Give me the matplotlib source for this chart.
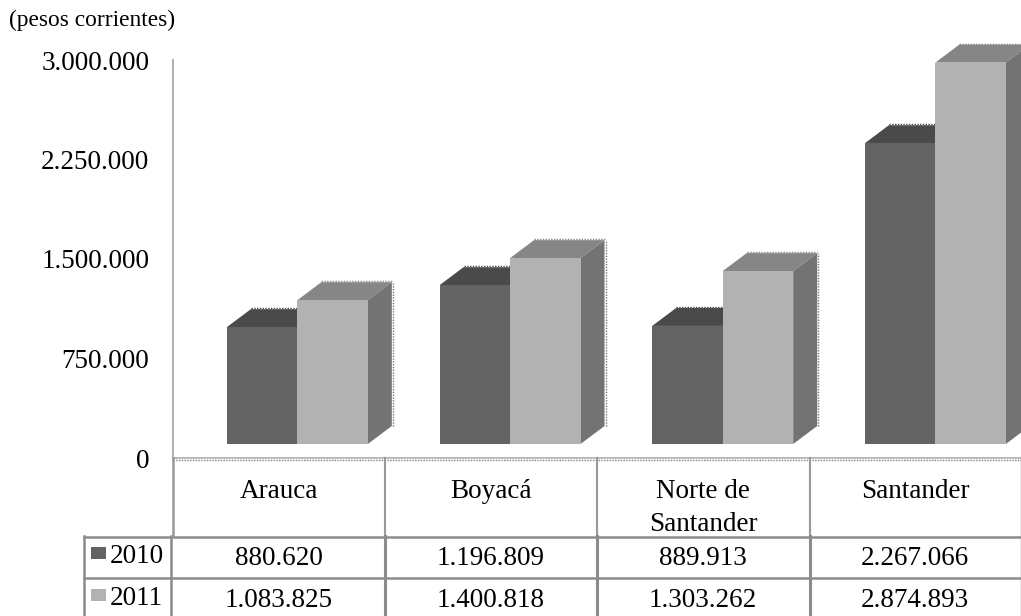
import matplotlib
matplotlib.use("Agg")
from matplotlib import pyplot as plt
from matplotlib.lines import Line2D
from matplotlib.patches import Rectangle
from matplotlib.transforms import Affine2D, offset_copy

plt.rcParams["font.family"] = ["Liberation Serif", "DejaVu Serif"]

categories = ["Arauca", "Boyacá", "Norte de\nSantander", "Santander"]
values_2010 = [880620, 1196809, 889913, 2267066]
values_2011 = [1083825, 1400818, 1303262, 2874893]
labels_2010 = ["880.620", "1.196.809", "889.913", "2.267.066"]
labels_2011 = ["1.083.825", "1.400.818", "1.303.262", "2.874.893"]
yticks = [0, 750000, 1500000, 2250000, 3000000]
ytick_labels = ["0", "750.000", "1.500.000", "2.250.000", "3.000.000"]

W, H = 1021, 616
fig = plt.figure(figsize=(W / 100, H / 100), dpi=100)
px = Affine2D().scale(1, -1).translate(0, H)  # pixel coords, y down

unit = 212.67  # pixels per category
ax = fig.add_axes([173 / W, 1 - 458 / H, 4 * unit / W, 398 / H])
ax.set_xlim(0, 4)
ax.set_ylim(0, 3000000)
ax.patch.set_alpha(0)
for s in ["top", "right", "bottom"]:
    ax.spines[s].set_visible(False)
ax.spines["left"].set_color("#b4b4b4")
ax.spines["left"].set_linewidth(1.5)
ax.set_xticks([])
ax.set_yticks(yticks)
ax.set_yticklabels(ytick_labels, fontsize=19.5)
ax.tick_params(axis="y", length=0, pad=17)

# 3d look: bars sit a bit up and right of the axis, depth goes up-right
front = offset_copy(ax.transData, fig=fig, x=18, y=14, units="dots")
edge_r = offset_copy(ax.transData, fig=fig, x=19, y=14, units="dots")
edge_t = offset_copy(ax.transData, fig=fig, x=18, y=15, units="dots")
bar_w = 70.5 / unit
depth_x = 24 / unit
depth_y = 18 * 3000000 / 398
dots = (0, (1, 1))


def bar3d(x, v, c_front, c_top, c_side, z):
    ax.fill([x, x + depth_x, x + bar_w + depth_x, x + bar_w],
            [v, v + depth_y, v + depth_y, v],
            color=c_top, lw=0, transform=front, clip_on=False, zorder=z)
    ax.fill([x + bar_w, x + bar_w + depth_x, x + bar_w + depth_x, x + bar_w],
            [0, depth_y, v + depth_y, v],
            color=c_side, lw=0, transform=front, clip_on=False, zorder=z)
    ax.plot([x + bar_w + depth_x] * 2, [depth_y, v + depth_y], color=c_side, lw=1,
            ls=dots, transform=edge_r, clip_on=False, zorder=z)
    ax.plot([x + depth_x, x + bar_w + depth_x], [v + depth_y] * 2, color=c_top, lw=1,
            ls=dots, transform=edge_t, clip_on=False, zorder=z)
    ax.bar(x, v, width=bar_w, align="edge", color=c_front, transform=front,
           clip_on=False, zorder=z)


for i in range(len(categories)):
    x0 = i + 0.5
    bar3d(x0 - bar_w, values_2010[i], "#636363", "#4a4a4a", "#5a5a5a", 2)
    bar3d(x0, values_2011[i], "#b2b2b2", "#868686", "#737373", 3)

# floor line
fig.add_artist(Line2D([173, 1021], [457.5, 457.5], transform=px, color="#bdbdbd", lw=1.5))
fig.add_artist(Line2D([173, 1021], [459.5, 459.5], transform=px, color="#808080", lw=1, ls=dots))

# table grid
grid = "#8c8c8c"


def hline(x0, x1, y):
    fig.add_artist(Line2D([x0, x1], [y, y], transform=px, color=grid, lw=1.8))


def vline(x, y0, y1, lw=1.8, color=grid):
    fig.add_artist(Line2D([x, x], [y0, y1], transform=px, color=color, lw=lw))


hline(84, 1021, 536.5)
hline(84, 1021, 577.5)
vline(84, 536, 616)
vline(171, 536, 616)
vline(173, 458, 536, color="#999999")
for x in [385, 597, 809.5]:
    vline(x, 458, 536, lw=1.5, color="#999999")
    vline(x, 536, 616, lw=2.2)
vline(1020.5, 458, 616, lw=1)

# table text
cell_size = 19.5
for i in range(4):
    xc = 279 + 212 * i
    if "\n" in categories[i]:
        fig.text(xc, 531, categories[i], transform=px, ha="center", va="baseline",
                 fontsize=cell_size, linespacing=1.42)
    else:
        fig.text(xc, 498, categories[i], transform=px, ha="center", va="baseline",
                 fontsize=cell_size)
    fig.text(xc, 565, labels_2010[i], transform=px, ha="center", va="baseline", fontsize=cell_size)
    fig.text(xc, 607, labels_2011[i], transform=px, ha="center", va="baseline", fontsize=cell_size)

# legend keys in the table
fig.add_artist(Rectangle((91, 547), 15, 12, transform=px, color="#636363", lw=0))
fig.add_artist(Rectangle((91, 589), 15, 12, transform=px, color="#b2b2b2", lw=0))
fig.text(110, 563, "2010", transform=px, ha="left", va="baseline", fontsize=cell_size)
fig.text(110, 605, "2011", transform=px, ha="left", va="baseline", fontsize=cell_size)

fig.text(9, 26, "(pesos corrientes)", transform=px, ha="left", va="baseline", fontsize=16.8)

fig.savefig("out.png", dpi=100)
